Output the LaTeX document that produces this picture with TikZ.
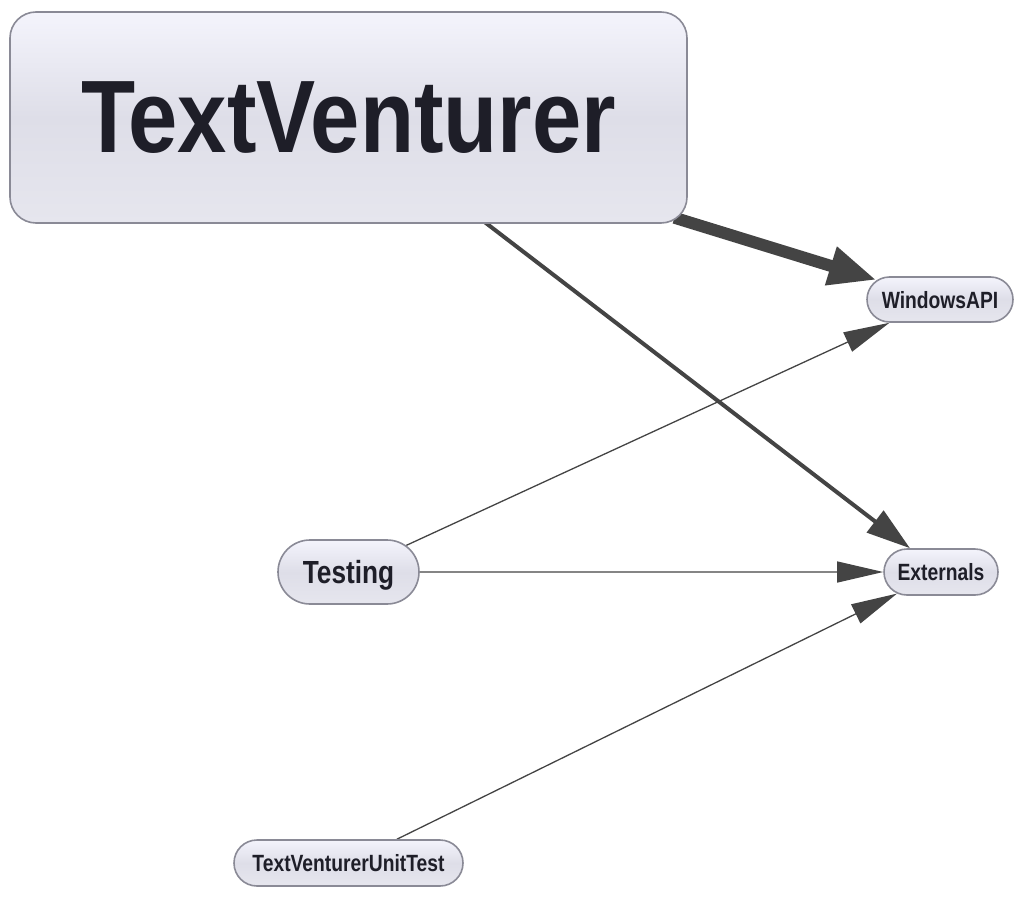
\documentclass[tikz,border=0pt]{standalone}
\usepackage{fontspec}
\setmainfont{Liberation Sans}
\usetikzlibrary{arrows.meta,positioning,shapes.misc,backgrounds}
\definecolor{BoxTop}{HTML}{F4F4FC}
\definecolor{BoxMid}{HTML}{DEDEE8}
\definecolor{BoxBot}{HTML}{E6E6EE}
\definecolor{BoxLine}{HTML}{8A8A96}
\definecolor{Ink}{HTML}{1E1E28}
\definecolor{Wire}{HTML}{444444}
% narrow bold label, kept out of the node's own width
\newcommand{\slim}[1]{\makebox[0pt]{\scalebox{0.82}[1]{#1}}}

\begin{document}
\begin{tikzpicture}[x=1pt,y=-1pt,
  pkg/.style={draw=BoxLine,line width=1.6pt,top color=BoxTop,bottom color=BoxBot,middle color=BoxMid,text=Ink,inner sep=0pt,text depth=0pt},
  leaf/.style={pkg,rounded rectangle,minimum height=46pt,font=\bfseries\fontsize{23.5}{24}\selectfont},
  uses/.style={draw=Wire,line width=1.3pt,-{Triangle[length=46pt,width=21pt]}},
  uses2/.style={draw=Wire,line width=4pt,-{Triangle[length=44pt,width=27pt]}},
  uses3/.style={draw=Wire,line width=12pt,-{Triangle[length=48pt,width=37pt]}}
]
\useasboundingbox (0,0) rectangle (1024,896);
\node[pkg,rounded corners=26pt,minimum width=677pt,minimum height=211pt,font=\bfseries\fontsize{103}{110}\selectfont] (TV) at (348.5,117.5) {\scalebox{0.86}[1]{TextVenturer}};
\node[leaf,minimum width=146pt,minimum height=45pt] (WA) at (940,299.5) {\slim{WindowsAPI}};
\node[leaf,minimum width=114pt] (EX) at (941,572) {\slim{Externals}};
\node[leaf,minimum width=141pt,minimum height=64pt,font=\bfseries\fontsize{32}{34}\selectfont] (TS) at (348.5,572) {\slim{Testing}};
\node[leaf,minimum width=229pt] (UT) at (348.5,863) {\slim{TextVenturerUnitTest}};
\begin{scope}[on background layer]
\draw[uses3,shorten <=-14pt] (TV) -- (WA);
\draw[uses2,shorten <=-6pt] (TV) -- (EX);
\draw[uses] (TS) -- (WA);
\draw[uses] (TS) -- (EX);
\draw[uses] (UT) -- (EX);
\end{scope}
\end{tikzpicture}
\end{document}
